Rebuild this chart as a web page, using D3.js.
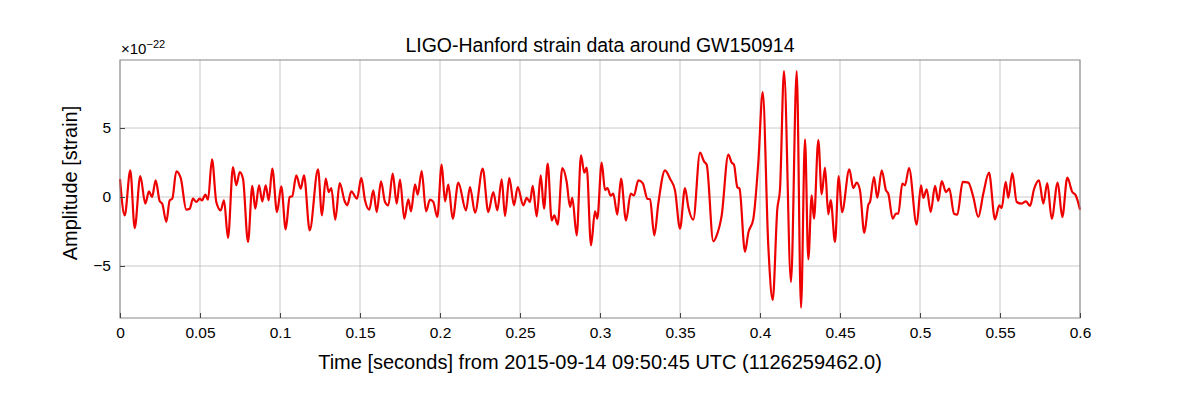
<!DOCTYPE html>
<html><head><meta charset="utf-8">
<script src="https://cdn.jsdelivr.net/npm/d3@7"></script>
<style>body{margin:0;background:#fff}text{font-family:"Liberation Sans",Arial,sans-serif}</style>
</head><body><svg id="c" width="1200" height="400"></svg>
<script>
const timesMs = [0,2.94,6.44,9.19,12.69,15.81,18.13,20.0,22.31,24.81,26.44,28.94,31.06,32.69,35.19,37.94,41.44,43.56,45.63,47.69,49.81,51.25,53.31,55.0,57.5,60.19,62.94,65.0,67.5,70.63,72.69,74.81,76.88,80.0,82.69,84.56,86.88,88.94,91.06,92.94,95.19,98.13,100.81,103.56,106.06,107.69,110.19,112.94,115.0,118.56,123.75,126.25,128.56,130.44,132.06,134.56,137.31,140.44,142.06,144.56,148.13,150.81,153.13,155.81,158.31,160.44,163.13,165.63,167.69,170.44,172.94,175.0,177.69,180.19,181.88,184.38,186.06,188.56,191.25,193.75,195.81,198.31,201.06,203.13,205.19,207.94,211.44,216.25,218.75,221.88,226.69,230.19,233.31,235.81,238.56,240.63,243.31,246.25,248.56,252.06,254.19,256.25,257.94,260.44,262.94,265.0,267.31,269.81,271.44,273.56,276.44,279.19,281.25,282.69,285.44,288.13,290.19,291.69,294.38,296.88,298.31,301.06,303.13,304.69,306.56,308.31,310.81,313.13,316.25,319.19,321.25,323.94,326.69,329.56,331.25,333.94,336.44,340.63,343.75,346.88,350.0,353.13,355.19,358.31,362.5,365.0,366.69,370.81,372.94,376.06,380.19,382.31,383.75,385.81,387.19,390.63,392.69,395.81,398.94,401.69,405.19,407.94,410.81,412.5,415.0,419.38,422.94,425.63,428.13,430.19,432.31,433.75,436.44,438.56,440.63,442.69,444.19,446.88,449.19,451.25,455.81,458.31,460.44,462.5,465.19,467.69,468.75,471.25,473.31,476.06,478.75,480.19,482.94,485.0,486.44,488.94,490.63,493.13,497.94,500.63,502.06,504.19,506.69,509.38,511.44,513.56,516.25,518.31,521.25,523.31,526.69,530.19,533.31,536.44,539.56,543.13,546.88,549.56,551.06,553.56,555.19,557.69,560.44,563.56,566.25,568.75,571.25,574.38,577.06,579.56,582.31,586.06,588.94,592.06,595.19,597.31,600];
const strain = [1.3,-1.33,1.93,-2.25,1.52,-0.48,0.41,0,1.2,-0.3,-0.5,-1.8,-0.24,-0.12,1.86,1.38,-0.92,-0.85,-0.12,-0.36,-0.12,-0.24,0.17,-0.2,2.73,-0.36,-0.97,-0.24,-2.97,2.17,0.85,1.81,1.33,-3.26,0.8,-0.85,0.85,-0.31,0.85,-0.24,2.05,-1.09,0.77,-2.34,0,0.07,1.57,0.6,1.57,-2.42,2.0,-1.33,1.33,0.36,0.65,-1.64,1.01,-0.31,-0.6,0.41,-0.12,1.38,-0.24,-0.92,0.48,-1.09,1.14,-0.36,-0.6,1.69,-0.48,1.26,-1.57,-0.17,-1.04,0.92,0.17,1.88,-1.04,-0.19,-0.36,-1.45,2.34,-0.31,0.89,-1.57,1.04,-0.97,0.72,-1.14,2.05,-1.09,0.36,-0.97,1.28,-1.38,1.38,-0.6,0.72,-0.6,-0.07,-0.36,0.8,-1.4,1.57,-0.85,2.42,-1.69,-1.33,-2.0,2.1,1.09,-0.72,-0.07,-2.78,3.02,1.76,2.13,-3.5,-1.04,-1.57,2.49,0.5,0.65,0.1,0.24,-1.28,1.33,-1.69,0.24,0.12,1.21,1.01,-0.12,-0.17,-2.78,-0.48,1.93,1.33,0.48,-2.29,0.65,-0.72,-1.64,3.21,2.58,2.34,-3.21,-2.78,-1.33,3.07,2.49,2.34,0.72,0.6,-3.97,-2.6,-1.6,2.49,7.6,-3.55,-7.46,-0.89,0.56,9.13,-6.16,9.13,-8.02,4.18,-4.52,0.12,-1.57,4.13,0.19,2.13,-1.26,-0.22,-3.26,1.52,-1.1,2.0,0.65,1.04,0.48,-2.61,-0.56,-0.36,1.45,-0.07,1.93,0.48,0.24,-1.57,-1.21,-1.21,0.97,0.85,2.1,-2.0,0.85,-0.07,0.56,-1.09,0.8,-0.29,1.16,0.36,0.6,-1.21,-1.28,1.09,1.04,0,-1.45,0.24,1.76,-1.62,-0.6,-0.8,1.09,-0.07,1.74,-0.36,-0.48,-0.31,-0.65,0.56,1.21,-0.48,1.01,-1.57,1.04,-1.45,1.4,0.36,0.12,-0.92];
const xTicks = [0,0.05,0.1,0.15,0.2,0.25,0.3,0.35,0.4,0.45,0.5,0.55,0.6];
const yTicks = [-5,0,5];
const svg = d3.select("#c");
const L=120,R=1080,T=60,B=318;
const x = d3.scaleLinear().domain([0,0.6]).range([L,R]);
const y = d3.scaleLinear().domain([-8.77,9.93]).range([B,T]);
const g = svg.append("g");
g.selectAll(".gx").data(xTicks).join("line").attr("x1",d=>x(d)).attr("x2",d=>x(d)).attr("y1",T).attr("y2",B).attr("stroke","#bbb").attr("stroke-width",0.8);
g.selectAll(".gy").data(yTicks).join("line").attr("y1",d=>y(d)).attr("y2",d=>y(d)).attr("x1",L).attr("x2",R).attr("stroke","#bbb").attr("stroke-width",0.8);
const data = timesMs.map((t,i)=>[t/1000,strain[i]]);
svg.append("path").datum(data).attr("fill","none").attr("stroke","#ee0000").attr("stroke-width",2.2)
  .attr("d",d3.line().x(d=>x(d[0])).y(d=>y(d[1])).curve(d3.curveMonotoneX));
svg.append("rect").attr("x",L).attr("y",T).attr("width",R-L).attr("height",B-T).attr("fill","none").attr("stroke","#888").attr("stroke-width",1);
const xa = svg.append("g").attr("transform",`translate(0,${B})`).call(d3.axisBottom(x).tickValues(xTicks).tickFormat(d=>d3.format("")(+d.toFixed(2))).tickSizeInner(-5).tickSizeOuter(0).tickPadding(9));
const ya = svg.append("g").attr("transform",`translate(${L},0)`).call(d3.axisLeft(y).tickValues(yTicks).tickFormat(d=>d<0?"\u2212"+(-d):d).tickSizeInner(-5).tickSizeOuter(0).tickPadding(9));
[xa,ya].forEach(a=>{a.select(".domain").remove();a.selectAll("line").attr("stroke","#444");a.selectAll("text").attr("font-size",15.5).attr("fill","#000").style("font-family","Liberation Sans, Arial, sans-serif");});
svg.append("text").attr("x",600).attr("y",52).attr("text-anchor","middle").attr("font-size",19.5).text("LIGO-Hanford strain data around GW150914");
const mt = svg.append("text").attr("x",121).attr("y",54).attr("font-size",15).text("×10");
mt.append("tspan").attr("dy",-6).attr("font-size",11).text("−22");
svg.append("text").attr("x",600).attr("y",369).attr("text-anchor","middle").attr("font-size",20).text("Time [seconds] from 2015-09-14 09:50:45 UTC (1126259462.0)");
svg.append("text").attr("transform",`translate(77,${(T+B)/2-6}) rotate(-90)`).attr("text-anchor","middle").attr("font-size",20).text("Amplitude [strain]");
</script></body></html>
